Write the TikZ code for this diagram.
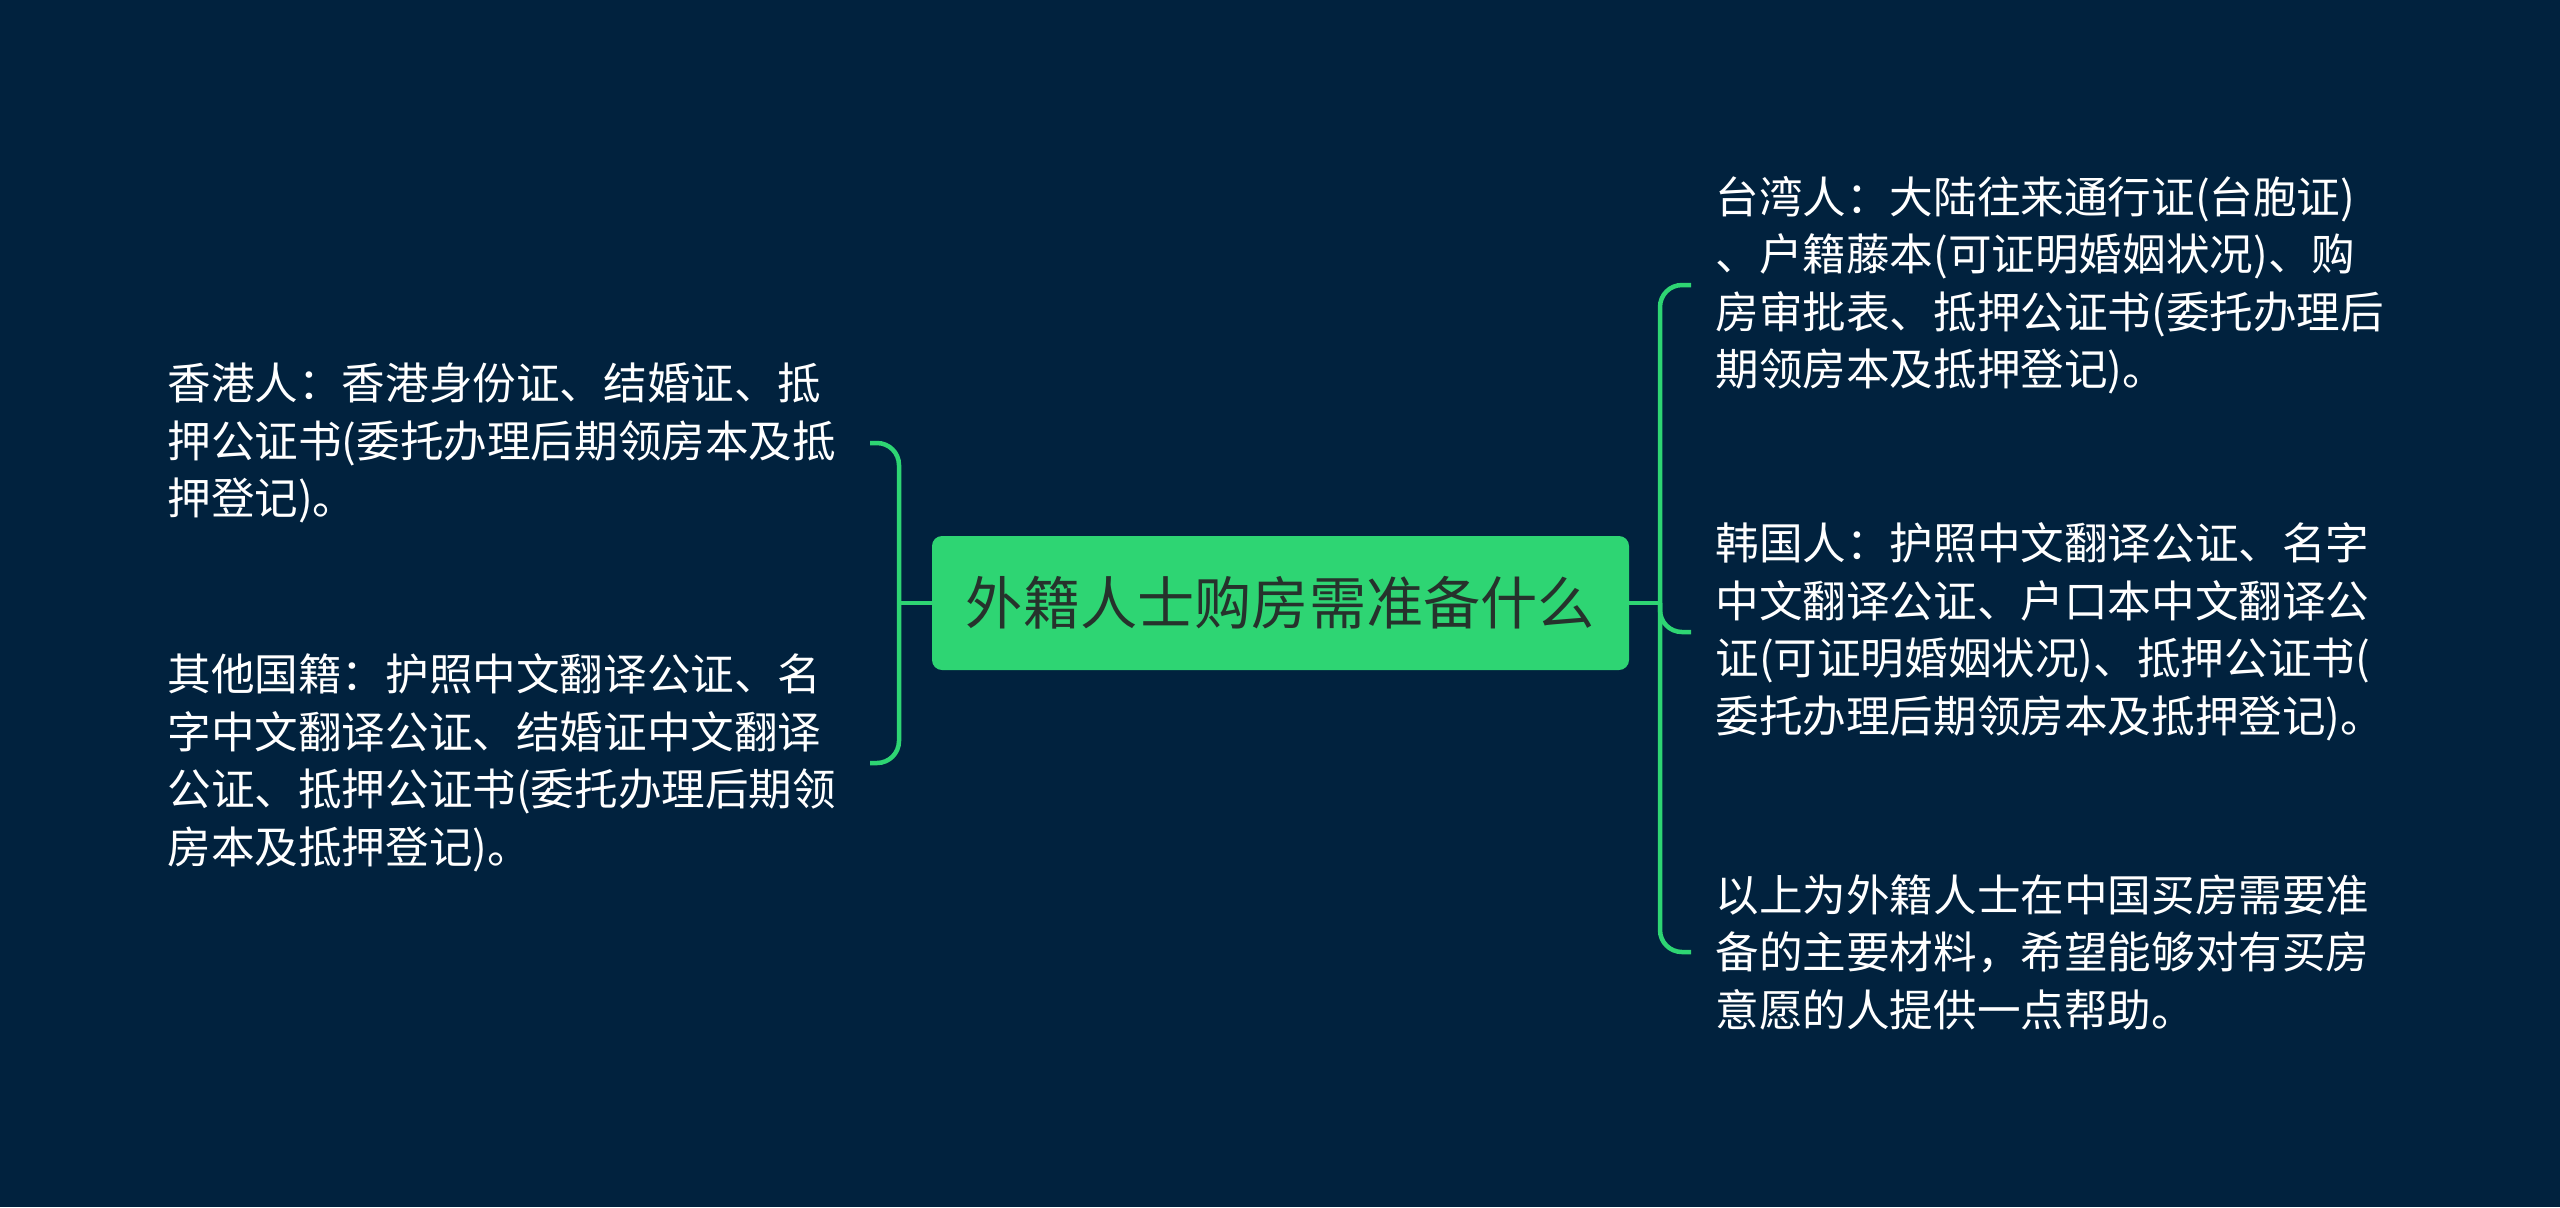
\documentclass[tikz,border=0pt]{standalone}
\usepackage{fontspec}
\setmainfont{Noto Sans CJK SC}
\definecolor{bg}{RGB}{1,34,62}
\definecolor{lgreen}{RGB}{46,213,115}
\definecolor{dtext}{RGB}{38,50,44}
\begin{document}
\begin{tikzpicture}[x=0.5pt,y=-0.5pt,
  leaf/.style={anchor=west, inner sep=0pt, align=left, text=white,
    font=\fontsize{21.8pt}{28.75pt}\selectfont},
  rootbox/.style={fill=lgreen, rounded corners=5pt, minimum width=348.5pt,
    minimum height=67pt, inner sep=0pt, text=dtext,
    font=\fontsize{28.6pt}{34pt}\selectfont},
  conn/.style={draw=lgreen, line width=2.25pt, rounded corners=11pt}]
\fill[bg] (0,0) rectangle (2560,1207);
\useasboundingbox (0,0) rectangle (2560,1207);

\node[rootbox] (root) at (1280.5,603) {外籍人士购房需准备什么};

\node[leaf] (hk) at (167,443) {香港人：香港身份证、结婚证、抵\\押公证书(委托办理后期领房本及抵\\押登记)。};
\node[leaf] (other) at (167,763) {其他国籍：护照中文翻译公证、名\\字中文翻译公证、结婚证中文翻译\\公证、抵押公证书(委托办理后期领\\房本及抵押登记)。};

\node[leaf] (tw) at (1715,285) {台湾人：大陆往来通行证(台胞证)\\、户籍藤本(可证明婚姻状况)、购\\房审批表、抵押公证书(委托办理后\\期领房本及抵押登记)。};
\node[leaf] (kr) at (1715,632) {韩国人：护照中文翻译公证、名字\\中文翻译公证、户口本中文翻译公\\证(可证明婚姻状况)、抵押公证书(\\委托办理后期领房本及抵押登记)。};
\node[leaf] (sum) at (1715,952) {以上为外籍人士在中国买房需要准\\备的主要材料，希望能够对有买房\\意愿的人提供一点帮助。};

\coordinate (jl) at (899,603);
\coordinate (jr) at (1660,603);
\coordinate (sl) at (870,0);
\coordinate (sr) at (1691,0);

\draw[conn] (root.west) -- (jl);
\draw[conn] (jl) |- (hk.west -| sl);
\draw[conn] (jl) |- (other.west -| sl);

\draw[conn] (root.east) -- (jr);
\draw[conn] (jr) |- (tw.west -| sr);
\draw[conn] (jr) |- (kr.west -| sr);
\draw[conn] (jr) |- (sum.west -| sr);
\end{tikzpicture}
\end{document}
